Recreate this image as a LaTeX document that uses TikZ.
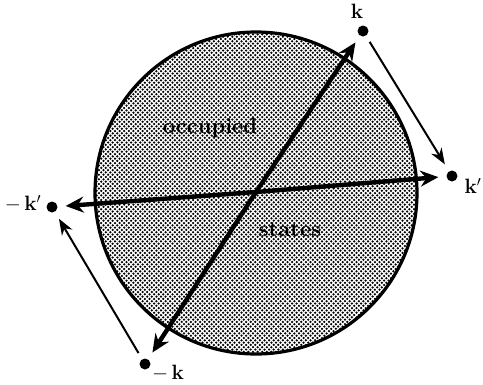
\documentclass[tikz,border=0pt]{standalone}
\usetikzlibrary{patterns,arrows.meta}
\pgfdeclarepatternformonly{bigdots}{\pgfqpoint{-1.5pt}{-1.5pt}}{\pgfqpoint{6pt}{6pt}}{\pgfqpoint{4.6pt}{4.6pt}}{%
  \pgfpathcircle{\pgfqpoint{0pt}{0pt}}{1.25pt}
  \pgfpathcircle{\pgfqpoint{2.3pt}{2.3pt}}{1.25pt}
  \pgfusepath{fill}}
\begin{document}
\begin{tikzpicture}[x=1pt,y=-1pt,
  dotpt/.style={circle,fill=black,inner sep=0pt,minimum size=11pt},
  thickarr/.style={line width=4.4pt,-{Stealth[length=18pt,width=16pt,inset=6pt]},shorten >=8pt},
  thinarr/.style={line width=2pt,-{Stealth[length=16pt,width=12pt,inset=5pt]},shorten >=8pt,shorten <=7pt},
  txt/.style={font=\fontsize{22}{26}\selectfont\bfseries},
  lbl/.style={font=\fontsize{22}{26}\selectfont}]
\useasboundingbox (0,0) rectangle (483,384);
\node[circle,draw,line width=3.2pt,pattern=bigdots,minimum size=322pt,inner sep=0pt] (disk) at (256,193) {};
\node[txt] (occ) at (210,128) {occupied};
\node[txt] (sta) at (290,230) {states};
\node[dotpt] (k) at (363,31) {};
\node[dotpt] (kp) at (452,176) {};
\node[dotpt] (mkp) at (52,207) {};
\node[dotpt] (mk) at (145,364) {};
\coordinate (c) at (256,192);
\node[lbl] (lk) at (357,11) {$\mathbf{k}$};
\node[lbl] (lkp) at (473,186) {$\mathbf{k}'$};
\node[lbl] (lmkp) at (23,204) {$-\,\mathbf{k}'$};
\node[lbl] (lmk) at (168,373) {$-\,\mathbf{k}$};
\draw[thickarr] (c) -- (k);
\draw[thickarr] (c) -- (mk);
\draw[thickarr] (c) -- (kp);
\draw[thickarr] (c) -- (mkp);
\draw[thinarr] (k) -- (kp);
\draw[thinarr] (mk) -- (mkp);
\end{tikzpicture}
\end{document}
